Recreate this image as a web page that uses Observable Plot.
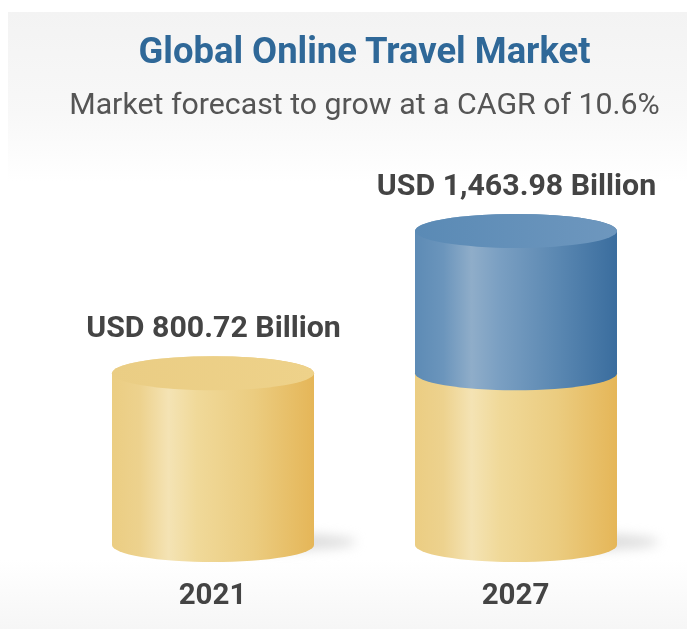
<!DOCTYPE html>
<html>
<head>
<meta charset="utf-8">
<script src="https://cdn.jsdelivr.net/npm/d3@7"></script>
<script src="https://cdn.jsdelivr.net/npm/@observablehq/plot@0.6"></script>
<style>
html,body{margin:0;padding:0;width:687px;height:629px;overflow:hidden;background:#fff;font-family:Roboto,sans-serif}
#page{position:relative;width:687px;height:629px}
#panelTop{position:absolute;left:8px;right:0;top:12px;height:170px;background:linear-gradient(to bottom,#f3f3f3,#f8f8f8 60%,#ffffff)}
#panelBottom{position:absolute;left:0;right:0;top:560px;height:69px;background:linear-gradient(to bottom,#ffffff,#f6f6f6)}
#title{position:absolute;left:8px;width:713px;text-align:center;top:30px;margin:0;line-height:42px;font-weight:700;color:#2f6898;font-size:36.4px;filter:blur(.5px)}
#subtitle{position:absolute;left:8px;width:713px;text-align:center;top:85px;margin:0;font-size:30.3px;line-height:38px;font-weight:400;color:#555;filter:blur(.5px)}
#chart{position:absolute;left:0;top:165px;filter:blur(.6px)}
</style>
</head>
<body>
<div id="page">
 <div id="panelTop"></div>
 <div id="panelBottom"></div>
 <h1 id="title">Global Online Travel Market</h1>
 <p id="subtitle">Market forecast to grow at a CAGR of 10.6%</p>
 <div id="chart"></div>
</div>
<script>
const years = ["2021", "2027"];
const marketSize = [800.72, 1463.98];
const valueLabels = ["USD 800.72 Billion", "USD 1,463.98 Billion"];

const rows = years.map((year, i) => ({year, value: marketSize[i], label: valueLabels[i]}));
const baseValue = marketSize[0];
const forecast = rows.filter(d => d.value > baseValue);

const halfWidth = 101, capRadius = 17;

function gradient(id, stops) {
  return `<linearGradient id="${id}" x1="0" x2="1" y1="0" y2="0">` +
    stops.map(([o, c]) => `<stop offset="${o}" stop-color="${c}"/>`).join("") +
    `</linearGradient>`;
}
const defs = () => {
  const g = d3.create("svg:defs");
  g.html(
    gradient("yellowBody", [[0,"#ebcd82"],[0.14,"#edd28e"],[0.28,"#f4e3b4"],[0.42,"#f0d999"],[0.7,"#ebcc80"],[1,"#e5b658"]]) +
    gradient("blueBody", [[0,"#5d8bb5"],[0.14,"#6b95bc"],[0.28,"#8fadc9"],[0.42,"#7a9fc2"],[0.7,"#5b88b2"],[1,"#3a6d9e"]]) +
    gradient("yellowCap", [[0,"#eacd84"],[1,"#eed28a"]]) +
    gradient("blueCap", [[0,"#5a8ab5"],[1,"#6e97be"]])
  );
  return g.node();
};

const cap = {insetTop: -capRadius, insetBottom: -capRadius, rx: halfWidth, ry: capRadius};

const chart = Plot.plot({
  width: 687,
  height: 464,
  marginLeft: 112,
  marginRight: 70,
  marginTop: 58.25,
  marginBottom: 84,
  style: {background: "transparent", fontFamily: "Roboto, sans-serif"},
  x: {type: "band", domain: years, paddingInner: 1/3, paddingOuter: 0, align: 0.5, axis: null},
  y: {domain: [0, 1500], axis: null},
  marks: [
    defs,
    // soft shadow to the right of each base
    Plot.barY(rows, {x: "year", y1: 0, y2: 0, fill: "#c4c4c4", fillOpacity: 0.6, dx: 42, dy: -3,
      insetTop: -9, insetBottom: -9, rx: halfWidth, ry: 9, imageFilter: "blur(6px)"}),
    // yellow part of each cylinder
    Plot.barY(rows, {x: "year", y1: 0, y2: () => baseValue, fill: "url(#yellowBody)", ...cap}),
    // yellow lid on the cylinder that has no forecast growth on top
    Plot.barY(rows.filter(d => d.value <= baseValue), {x: "year", y1: "value", y2: "value", fill: "url(#yellowCap)", ...cap}),
    // blue forecast part and its lid
    Plot.barY(forecast, {x: "year", y1: () => baseValue, y2: "value", fill: "url(#blueBody)", ...cap}),
    Plot.barY(forecast, {x: "year", y1: "value", y2: "value", fill: "url(#blueCap)", ...cap}),
    Plot.text(rows, {x: "year", y: "value", text: "label", dy: -46, fontSize: 30.3, fontWeight: 700, fill: "#444"}),
    Plot.axisX({tickSize: 0, tickPadding: 38, fontSize: 29.5, fontWeight: 700, color: "#444", label: null, anchor: "bottom", dx: -1})
  ]
});
document.getElementById("chart").appendChild(chart);
</script>
</body>
</html>
